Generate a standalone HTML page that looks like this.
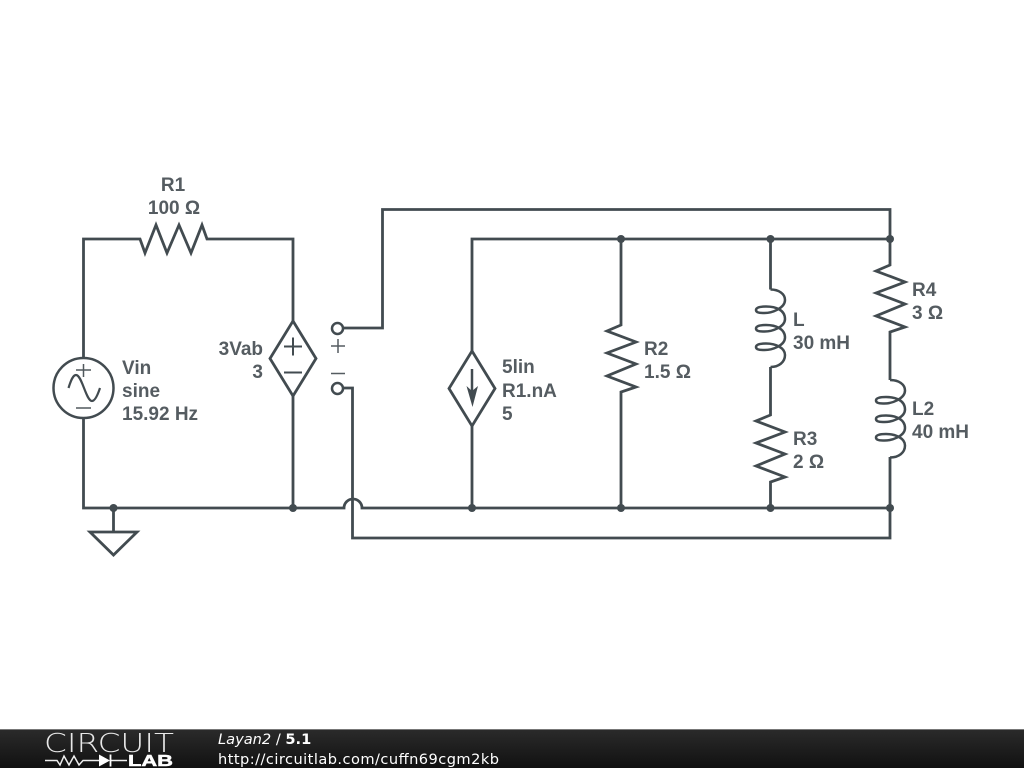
<!DOCTYPE html>
<html><head><meta charset="utf-8"><style>
html,body{margin:0;padding:0;background:#fff;width:1024px;height:768px;overflow:hidden}
svg{display:block}
.w{fill:none;stroke:#424b50;stroke-width:2.800;stroke-linejoin:miter}
.c{fill:none;stroke:#424b50;stroke-width:2.500}
.d{fill:#424b50}
.t{font-family:"Liberation Sans",sans-serif;font-weight:bold;font-size:19px;fill:#555c61}
.f{font-family:"DejaVu Sans",sans-serif;font-size:14.6px;fill:#fff}
</style></head><body>
<svg width="1024" height="768" viewBox="0 0 1024 768" xmlns="http://www.w3.org/2000/svg">
<defs><linearGradient id="g" x1="0" y1="0" x2="0" y2="1"><stop offset="0" stop-color="#2b2b2b"/><stop offset="1" stop-color="#111"/></linearGradient></defs>
<rect width="1024" height="768" fill="#fff"/>
<!-- wires -->
<path class="w" d="M83.500 358V239H140L145 253L156 225L167 253L179 225L191 253L202 225L207 239H293V321M293 396V508M83.500 418V508H344A9 9 0 0 1 362 508H890M113.500 508V532"/>
<path class="w" d="M90 532H137L113.500 555Z"/>
<path class="w" d="M343 328H382.500V209.500H890V265L876 271L905 282L876 293L905 304L876 316L905 327L890 332V380"/>
<path class="w" d="M343 388H352.500V538H890V457"/>
<path class="w" d="M472 351V239H890M472 426V508"/>
<path class="w" d="M621 239V325L607 331L636 342L607 353L636 364L607 376L636 387L621 392V508"/>
<path class="w" d="M770.500 239V289.500"/>
<path class="w" d="M770.500 367V415L756 421L785 432L756 443L785 454L756 466L785 477L770.500 482V508"/>
<!-- inductors -->
<path class="c" d="M770.500 289.500C779 289.500 785 294 785 300C785 308 772 313.500 763 313C758 313 756 312 756 310C756 307.500 760 306.500 766 306.500C776 306.500 785 310 785 319C785 327 772 332 763 331.500C758 331.500 756 330.500 756 328.500C756 326 760 325 766 325C776 325 785 329 785 337.500C785 345.500 772 350.500 763 350C758 350 756 349 756 347C756 344.500 760 343.500 766 343.500C776 343.500 785 348 785 355C785 362 779 367 770.500 367"/>
<path class="c" d="M890 380C899 380 905 384.500 905 390.500C905 398.500 892 404 883 403.500C878 403.500 876 402.500 876 400.500C876 398 880 397 886 397C896 397 905 400.500 905 409.500C905 417.500 892 422.500 883 422C878 422 876 421 876 419C876 416.500 880 415.500 886 415.500C896 415.500 905 419.500 905 428C905 436 892 441 883 440.500C878 440.500 876 439.500 876 437.500C876 435 880 434 886 434C896 434 905 438.500 905 445.500C905 452.500 899 457.500 890 457.500"/>
<!-- source -->
<circle cx="83.500" cy="388" r="30" fill="none" stroke="#424b50" stroke-width="2.500"/>
<path d="M76 370H91M83.500 364V377M76 408H91" fill="none" stroke="#50585d" stroke-width="1.500"/>
<path d="M68.500 388C71 380 73 375 76 375C82 375 86 401 92 401C95 401 98 394 100 388" fill="none" stroke="#424b50" stroke-width="2.200"/>
<!-- diamonds -->
<path class="w" d="M293 321L316 358.500L293 396L270 358.500Z"/>
<path d="M284 346.500H302M293 337.500V355.500M284 372.500H302" fill="none" stroke="#424b50" stroke-width="2"/>
<path class="w" d="M472 351L495 388.500L472 426L449 388.500Z"/>
<path d="M472 369V395" fill="none" stroke="#424b50" stroke-width="2.500"/>
<path class="d" d="M466.500 386L472 391L478 386L472.500 407Z"/>
<!-- terminals -->
<circle cx="337.500" cy="328.500" r="5.500" fill="#fff" stroke="#424b50" stroke-width="2.500"/>
<circle cx="337.500" cy="388.500" r="5.500" fill="#fff" stroke="#424b50" stroke-width="2.500"/>
<path d="M331 346H345M338 339V353M331 373.500H345" fill="none" stroke="#555c61" stroke-width="1.500"/>
<!-- dots -->
<g class="d"><circle cx="621" cy="239" r="4"/><circle cx="770.500" cy="239" r="4"/><circle cx="890" cy="239" r="4"/><circle cx="113.500" cy="508" r="4"/><circle cx="293" cy="508" r="4"/><circle cx="472" cy="508" r="4"/><circle cx="621" cy="508" r="4"/><circle cx="770.500" cy="508" r="4"/><circle cx="890" cy="508" r="4"/></g>
<!-- labels -->
<text class="t" x="173" y="191" text-anchor="middle">R1</text>
<text class="t" x="174" y="214" text-anchor="middle">100 Ω</text>
<text class="t" x="122" y="374">Vin</text>
<text class="t" x="122" y="397">sine</text>
<text class="t" x="122" y="420">15.92 Hz</text>
<text class="t" x="263" y="355" text-anchor="end">3Vab</text>
<text class="t" x="263" y="378" text-anchor="end">3</text>
<text class="t" x="502" y="373">5lin</text>
<text class="t" x="502" y="397">R1.nA</text>
<text class="t" x="502" y="420">5</text>
<text class="t" x="644" y="355">R2</text>
<text class="t" x="644" y="378">1.5 Ω</text>
<text class="t" x="793" y="326">L</text>
<text class="t" x="793" y="349">30 mH</text>
<text class="t" x="793" y="445">R3</text>
<text class="t" x="793" y="468">2 Ω</text>
<text class="t" x="912" y="296">R4</text>
<text class="t" x="912" y="319">3 Ω</text>
<text class="t" x="912" y="415">L2</text>
<text class="t" x="912" y="438">40 mH</text>
<!-- footer -->
<rect x="0" y="729" width="1024" height="39" fill="url(#g)"/>
<rect x="0" y="729" width="1024" height="1" fill="#777"/>
<text x="44" y="752" font-family="'DejaVu Sans',sans-serif" font-weight="200" font-size="26" fill="#e8e8e8" textLength="130" lengthAdjust="spacingAndGlyphs">CIRCUIT</text>
<path d="M45 760.500H57L60 765L64 756L69 765L74 756L79 765L83 760.500H99M110 760.500H127" fill="none" stroke="#eee" stroke-width="1.500"/>
<path d="M99 754.500V766.500L110 760.500Z" fill="#fff"/><path d="M110.500 754.500V766.500" stroke="#fff" stroke-width="1.800"/>
<text x="128" y="766" font-family="'Liberation Sans',sans-serif" font-weight="bold" font-size="15.500" fill="#fff" stroke="#fff" stroke-width=".5" textLength="45" lengthAdjust="spacingAndGlyphs">LAB</text>
<text class="f" x="218" y="744"><tspan font-style="italic">Layan2</tspan> / <tspan font-weight="bold">5.1</tspan></text>
<text class="f" x="218" y="764" textLength="281" lengthAdjust="spacing">http://circuitlab.com/cuffn69cgm2kb</text>
</svg>
</body></html>
